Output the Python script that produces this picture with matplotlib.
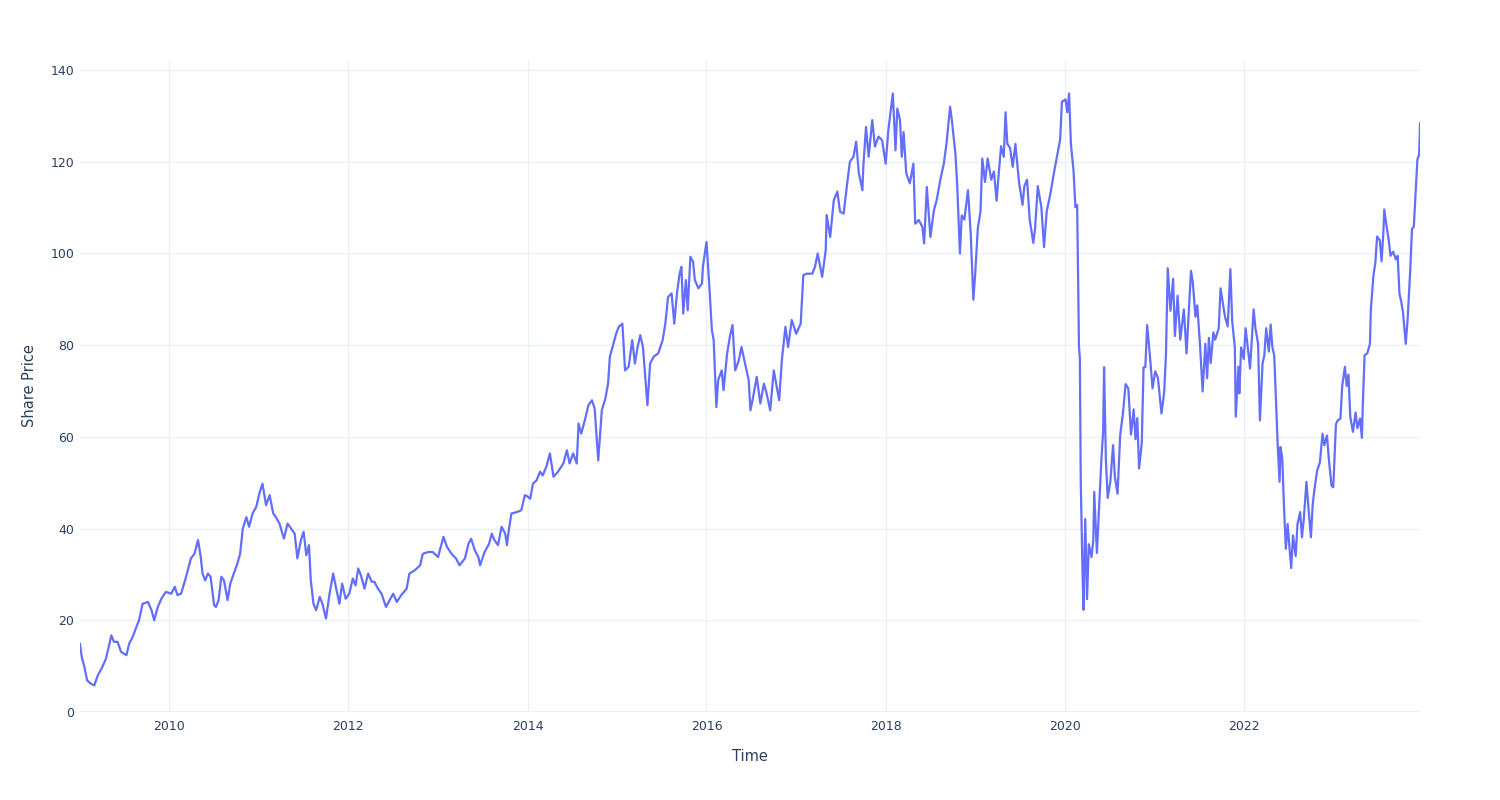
import matplotlib
matplotlib.use("Agg")
import matplotlib.pyplot as plt
import matplotlib.dates as mdates
import numpy as np
import pandas as pd

# time as decimal years
t = [
    2009.00, 2009.02, 2009.05, 2009.08, 2009.12, 2009.16, 2009.20, 2009.25, 2009.29, 2009.33,
    2009.35, 2009.38, 2009.42, 2009.46, 2009.52, 2009.55, 2009.59, 2009.63, 2009.66, 2009.70,
    2009.76, 2009.80, 2009.83, 2009.87, 2009.91, 2009.96,
    2010.02, 2010.06, 2010.09, 2010.13, 2010.17, 2010.20, 2010.24, 2010.28, 2010.32, 2010.35,
    2010.37, 2010.40, 2010.43, 2010.46, 2010.50, 2010.52, 2010.55, 2010.58, 2010.61, 2010.65,
    2010.68, 2010.72, 2010.76, 2010.79, 2010.82, 2010.86, 2010.89, 2010.93, 2010.97,
    2011.01, 2011.04, 2011.08, 2011.12, 2011.16, 2011.19, 2011.23, 2011.28, 2011.32, 2011.36,
    2011.40, 2011.43, 2011.47, 2011.50, 2011.53, 2011.56, 2011.58, 2011.61, 2011.64, 2011.68,
    2011.71, 2011.75, 2011.79, 2011.83, 2011.86, 2011.90, 2011.93, 2011.97,
    2012.01, 2012.05, 2012.08, 2012.11, 2012.14, 2012.18, 2012.22, 2012.26, 2012.29, 2012.33,
    2012.37, 2012.42, 2012.46, 2012.50, 2012.54, 2012.59, 2012.65, 2012.68, 2012.74, 2012.80,
    2012.83, 2012.89, 2012.94,
    2013.00, 2013.04, 2013.06, 2013.10, 2013.15, 2013.20, 2013.24, 2013.30, 2013.34, 2013.37,
    2013.41, 2013.45, 2013.47, 2013.52, 2013.57, 2013.60, 2013.63, 2013.67, 2013.71, 2013.75,
    2013.77, 2013.79, 2013.82, 2013.88, 2013.93, 2013.97,
    2014.00, 2014.03, 2014.06, 2014.10, 2014.14, 2014.17, 2014.21, 2014.25, 2014.29, 2014.34,
    2014.40, 2014.44, 2014.47, 2014.51, 2014.55, 2014.57, 2014.60, 2014.64, 2014.68, 2014.72,
    2014.75, 2014.79, 2014.83, 2014.87, 2014.90, 2014.92, 2014.95, 2014.99,
    2015.02, 2015.06, 2015.09, 2015.13, 2015.17, 2015.20, 2015.23, 2015.26, 2015.29, 2015.34,
    2015.37, 2015.41, 2015.46, 2015.51, 2015.54, 2015.57, 2015.61, 2015.64, 2015.67, 2015.70,
    2015.72, 2015.74, 2015.77, 2015.79, 2015.82, 2015.85, 2015.87, 2015.91, 2015.95, 2015.96,
    2016.00, 2016.03, 2016.06, 2016.08, 2016.11, 2016.13, 2016.17, 2016.19, 2016.23, 2016.26,
    2016.29, 2016.32, 2016.36, 2016.39, 2016.43, 2016.47, 2016.49, 2016.52, 2016.56, 2016.60,
    2016.64, 2016.67, 2016.71, 2016.75, 2016.79, 2016.81, 2016.84, 2016.88, 2016.91, 2016.95,
    2017.00, 2017.05, 2017.08, 2017.12, 2017.18, 2017.21, 2017.24, 2017.29, 2017.33, 2017.34,
    2017.38, 2017.42, 2017.46, 2017.49, 2017.53, 2017.57, 2017.60, 2017.64, 2017.67, 2017.70,
    2017.74, 2017.75, 2017.78, 2017.81, 2017.85, 2017.88, 2017.92, 2017.96,
    2018.00, 2018.03, 2018.08, 2018.11, 2018.13, 2018.16, 2018.18, 2018.20, 2018.23, 2018.27,
    2018.31, 2018.33, 2018.37, 2018.41, 2018.43, 2018.46, 2018.50, 2018.54, 2018.57, 2018.61,
    2018.65, 2018.68, 2018.72, 2018.74, 2018.78, 2018.80, 2018.83, 2018.85, 2018.88, 2018.92,
    2018.95, 2018.98,
    2019.00, 2019.03, 2019.06, 2019.08, 2019.11, 2019.14, 2019.18, 2019.21, 2019.24, 2019.26,
    2019.29, 2019.32, 2019.34, 2019.36, 2019.39, 2019.42, 2019.45, 2019.49, 2019.53, 2019.55,
    2019.58, 2019.61, 2019.65, 2019.67, 2019.70, 2019.74, 2019.77, 2019.80, 2019.84, 2019.88,
    2019.91, 2019.95, 2019.97,
    2020.01, 2020.03, 2020.05, 2020.07, 2020.10, 2020.12, 2020.14, 2020.16, 2020.17, 2020.18,
    2020.20, 2020.21, 2020.23, 2020.25, 2020.27, 2020.30, 2020.32, 2020.33, 2020.36, 2020.38,
    2020.41, 2020.43, 2020.44, 2020.46, 2020.48, 2020.51, 2020.54, 2020.56, 2020.59, 2020.62,
    2020.65, 2020.68, 2020.71, 2020.74, 2020.77, 2020.79, 2020.81, 2020.83, 2020.86, 2020.88,
    2020.90, 2020.92, 2020.95, 2020.98,
    2021.01, 2021.04, 2021.08, 2021.11, 2021.13, 2021.15, 2021.18, 2021.21, 2021.23, 2021.26,
    2021.29, 2021.33, 2021.36, 2021.38, 2021.41, 2021.43, 2021.46, 2021.48, 2021.51, 2021.54,
    2021.57, 2021.59, 2021.61, 2021.63, 2021.66, 2021.68, 2021.72, 2021.74, 2021.77, 2021.79,
    2021.82, 2021.85, 2021.87, 2021.90, 2021.91, 2021.94, 2021.95, 2021.97,
    2022.00, 2022.02, 2022.04, 2022.07, 2022.09, 2022.11, 2022.13, 2022.16, 2022.18, 2022.21,
    2022.23, 2022.25, 2022.28, 2022.30, 2022.32, 2022.34, 2022.37, 2022.38, 2022.40, 2022.41,
    2022.43, 2022.45, 2022.47, 2022.49, 2022.51, 2022.53, 2022.55, 2022.58, 2022.60, 2022.63,
    2022.65, 2022.67, 2022.70, 2022.72, 2022.75, 2022.77, 2022.79, 2022.82, 2022.85, 2022.88,
    2022.90, 2022.93, 2022.95, 2022.98,
    2023.00, 2023.03, 2023.05, 2023.08, 2023.10, 2023.13, 2023.15, 2023.17, 2023.19, 2023.22,
    2023.25, 2023.27, 2023.30, 2023.32, 2023.33, 2023.35, 2023.38, 2023.41, 2023.42, 2023.45,
    2023.47, 2023.49, 2023.52, 2023.54, 2023.56, 2023.57, 2023.60, 2023.62, 2023.64, 2023.67,
    2023.70, 2023.72, 2023.74, 2023.76, 2023.78, 2023.81, 2023.83, 2023.85, 2023.86, 2023.88,
    2023.90, 2023.92, 2023.94, 2023.96, 2023.97,
]

price = [
    14.9, 12.0, 9.8, 6.9, 6.2, 5.8, 8.0, 9.8, 11.6, 14.9,
    16.7, 15.3, 15.3, 13.1, 12.4, 14.9, 16.4, 18.5, 20.0, 23.6,
    24.0, 22.2, 20.0, 22.9, 24.7, 26.2,
    25.8, 27.3, 25.5, 25.8, 28.4, 30.5, 33.5, 34.5, 37.5, 33.8,
    30.2, 28.7, 30.2, 29.5, 23.3, 22.9, 24.4, 29.5, 28.7, 24.4,
    28.0, 30.2, 32.4, 34.5, 40.0, 42.5, 40.4, 43.3, 44.7,
    48.0, 49.8, 45.1, 47.3, 43.3, 42.5, 41.1, 37.8, 41.1, 40.0,
    38.9, 33.5, 37.5, 39.3, 34.2, 36.4, 28.7, 23.6, 22.2, 25.1,
    23.6, 20.4, 25.8, 30.2, 27.3, 23.6, 28.0, 24.7,
    25.8, 29.1, 27.6, 31.3, 29.8, 26.9, 30.2, 28.4, 28.4, 26.9,
    25.8, 22.9, 24.4, 25.8, 24.0, 25.5, 26.9, 30.2, 30.9, 32.0,
    34.5, 34.9, 34.9,
    33.8, 36.7, 38.2, 36.0, 34.5, 33.5, 32.0, 33.5, 36.7, 37.8,
    35.3, 33.8, 32.0, 34.9, 36.7, 38.9, 37.5, 36.4, 40.4, 38.9,
    36.4, 39.6, 43.3, 43.6, 44.0, 47.3,
    47.0, 46.5, 49.8, 50.5, 52.4, 51.6, 53.5, 56.4, 51.3, 52.4,
    54.2, 57.1, 54.2, 56.4, 54.2, 62.9, 60.7, 63.6, 66.9, 68.0,
    66.2, 54.9, 65.8, 68.4, 71.6, 77.5, 79.6, 82.5,
    84.0, 84.7, 74.5, 75.3, 81.1, 76.0, 79.6, 82.2, 79.6, 66.9,
    76.0, 77.5, 78.2, 81.1, 84.7, 90.5, 91.3, 84.7, 91.3, 95.6,
    97.1, 86.9, 94.2, 87.6, 99.3, 98.2, 94.2, 92.4, 93.5, 97.1,
    102.5, 93.5, 83.3, 81.1, 66.5, 72.4, 74.5, 70.2, 78.2, 81.8,
    84.4, 74.5, 76.7, 79.6, 76.0, 72.4, 65.8, 68.7, 73.1, 67.3,
    71.6, 69.5, 65.8, 74.5, 70.2, 68.0, 76.7, 84.0, 79.6, 85.5,
    82.5, 84.7, 95.3, 95.6, 95.6, 97.1, 100.0, 94.9, 100.7, 108.4,
    103.6, 111.6, 113.5, 109.1, 108.7, 115.3, 120.0, 121.1, 124.4, 117.5,
    113.8, 118.9, 127.6, 121.1, 129.1, 123.3, 125.5, 124.7,
    119.6, 126.9, 134.9, 122.5, 131.6, 129.1, 121.1, 126.5, 117.5, 115.3,
    119.6, 106.5, 107.3, 105.8, 102.2, 114.5, 103.6, 109.5, 111.6, 116.0,
    119.6, 124.0, 132.0, 129.1, 121.6, 114.7, 100.0, 108.3, 107.4, 113.8,
    104.6, 89.9,
    95.4, 105.5, 109.2, 120.7, 115.6, 120.7, 116.1, 117.9, 111.5, 116.6,
    123.4, 121.1, 130.8, 123.9, 123.0, 118.9, 123.9, 115.6, 110.6, 114.7,
    116.1, 107.4, 102.3, 105.5, 114.7, 110.1, 101.4, 109.2, 112.9, 117.5,
    120.7, 124.8, 133.1,
    133.6, 130.8, 134.9, 123.9, 117.9, 110.1, 110.6, 79.8, 77.0, 50.3,
    30.1, 22.3, 42.1, 24.6, 36.6, 33.8, 37.5, 48.0, 34.7, 43.0,
    55.0, 61.4, 75.2, 55.0, 46.7, 50.3, 58.2, 51.3, 47.6, 60.5,
    65.1, 71.5, 70.6, 60.5, 66.0, 59.5, 64.1, 53.1, 58.6, 75.2,
    75.2, 84.4, 77.9, 70.6,
    74.3, 72.9, 65.1, 69.7, 77.9, 96.8, 87.5, 94.5, 82.0, 90.8,
    81.2, 87.8, 78.2, 85.3, 96.2, 93.7, 86.2, 88.7, 80.3, 69.9,
    80.3, 72.8, 81.6, 76.1, 82.8, 81.2, 83.7, 92.4, 88.7, 86.2,
    84.1, 96.6, 85.3, 79.5, 64.4, 75.3, 69.5, 79.5,
    77.0, 83.7, 80.3, 74.9, 81.2, 87.8, 83.7, 80.3, 63.6, 76.1,
    77.8, 83.7, 78.6, 84.5, 79.5, 77.8, 62.8, 57.8, 50.2, 57.8,
    55.3, 44.4, 35.6, 41.0, 36.0, 31.4, 38.5, 34.0, 41.0, 43.6,
    38.1, 41.9, 50.2, 45.2, 38.1, 45.2, 48.6, 52.7, 54.4, 60.7,
    58.2, 60.3, 55.3, 49.4,
    49.0, 62.8, 63.6, 64.0, 71.1, 75.3, 71.1, 73.6, 64.4, 61.1,
    65.3, 61.9, 64.0, 59.8, 66.9, 77.8, 78.2, 80.3, 87.8, 95.4,
    97.9, 103.7, 102.9, 98.3, 104.5, 109.6, 105.4, 102.9, 99.5, 100.4,
    98.7, 99.5, 91.2, 89.5, 87.0, 80.3, 85.3, 92.8, 96.2, 105.4,
    105.8, 112.9, 120.4, 121.7, 128.4,
]

# decimal year -> timestamp
def to_date(y):
    yr = int(np.floor(y))
    start = pd.Timestamp(year=yr, month=1, day=1)
    end = pd.Timestamp(year=yr + 1, month=1, day=1)
    return start + (end - start) * (y - yr)

dates = [to_date(v) for v in t]

grid_c = "#EBF0F8"
text_c = "#2a3f5f"

fig = plt.figure(figsize=(15, 8), dpi=100)
ax = fig.add_axes([0.0533, 0.11, 0.8934, 0.815])

ax.plot(dates, price, color="#636EFA", lw=1.6, zorder=3)

ax.set_xlim(dates[0], dates[-1])
ax.set_ylim(0, 142.2)
ax.set_yticks(np.arange(0, 141, 20))
ax.xaxis.set_major_locator(mdates.YearLocator(2))
ax.xaxis.set_major_formatter(mdates.DateFormatter("%Y"))

ax.grid(True, color=grid_c, lw=1)
ax.set_axisbelow(True)
ax.axhline(0, color=grid_c, lw=2.2, zorder=1)
for s in ax.spines.values():
    s.set_visible(False)
ax.tick_params(length=0, labelsize=9, colors=text_c, pad=6)
ax.tick_params(axis="y", pad=4)

ax.set_xlabel("Time", fontsize=10.5, color=text_c, labelpad=11)
ax.set_ylabel("Share Price", fontsize=10.5, color=text_c, labelpad=10)

fig.savefig("out.png", dpi=100, facecolor="white")
